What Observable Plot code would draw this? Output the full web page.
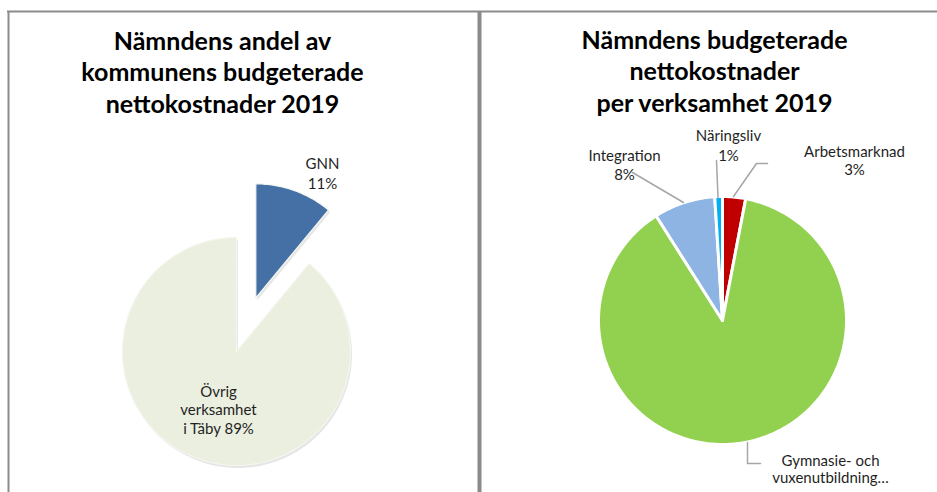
<!DOCTYPE html>
<html><head><meta charset="utf-8">
<script src="https://cdn.jsdelivr.net/npm/d3@7"></script>
<script src="https://cdn.jsdelivr.net/npm/@observablehq/plot@0.6"></script>
<style>html,body{margin:0;padding:0;background:#fff}#chart{width:937px;height:492px}</style>
</head><body><div id="chart"></div>
<script>
// ---------- data ----------
const leftCategories = ["GNN", "Övrig verksamhet i Täby"];
const leftValues = [11, 89];
const leftLabels = [["GNN", "11%"], ["Övrig", "verksamhet", "i Täby 89%"]];
const leftColors = ["#4470A6", "#EBEFDF"];

const rightCategories = ["Arbetsmarknad", "Gymnasie- och vuxenutbildning", "Integration", "Näringsliv"];
const rightValues = [3, 88, 8, 1];
const rightLabels = [["Arbetsmarknad", "3%"], ["Gymnasie- och", "vuxenutbildning…"], ["Integration", "8%"], ["Näringsliv", "1%"]];
const rightColors = ["#C00000", "#92D050", "#8DB4E2", "#00B0F0"];

const leftTitle = ["Nämndens andel av", "kommunens budgeterade", "nettokostnader 2019"];
const rightTitle = ["Nämndens budgeterade", "nettokostnader", "per verksamhet 2019"];

// ---------- layout ----------
const W = 937, H = 492;
const layout = {
  left: {cx: 236, cy: 351, r: 114, explode: [57, 0], title: {x: 222, y: 49, gap: 31.5},
    labels: [{x: 322, y: 168, gap: 20}, {x: 218, y: 396, gap: 18.5}]},
  right: {cx: 722, cy: 320, r: 124, explode: [0, 0, 0, 0], title: {x: 714, y: 48, gap: 31.5},
    labels: [{x: 854, y: 156, gap: 18}, {x: 830, y: 465, gap: 17.5}, {x: 624, y: 160, gap: 19}, {x: 728, y: 140, gap: 20}]},
  leaders: [
    [[632, 172], [683, 202]],
    [[716, 160], [717.5, 197]],
    [[767, 163], [756, 163], [733, 196]],
    [[760, 463], [747, 463], [747, 442]]
  ],
  frame: {top: 11, left: 8, divider: 479}
};

function slicePoints(cats, vals, L) {
  const arcs = d3.pie().sort(null)(vals);
  const pts = [];
  arcs.forEach((a, i) => {
    const mid = (a.startAngle + a.endAngle) / 2, e = L.explode[i] || 0;
    const ox = L.cx + e * Math.sin(mid), oy = L.cy - e * Math.cos(mid);
    pts.push({k: cats[i], x: ox, y: oy});
    const n = Math.max(2, Math.ceil((a.endAngle - a.startAngle) * 180 / Math.PI));
    for (let j = 0; j <= n; j++) {
      const t = a.startAngle + (a.endAngle - a.startAngle) * j / n;
      pts.push({k: cats[i], x: ox + L.r * Math.sin(t), y: oy - L.r * Math.cos(t)});
    }
  });
  return pts;
}
function textRows(lines, pos) {
  return lines.map((t, i) => ({t, x: pos.x, y: pos.y + i * pos.gap}));
}

const leftPts = slicePoints(leftCategories, leftValues, layout.left);
const rightPts = slicePoints(rightCategories, rightValues, layout.right);

const titleRows = [...textRows(leftTitle, layout.left.title), ...textRows(rightTitle, layout.right.title)];
const labelRows = [
  ...leftLabels.flatMap((l, i) => textRows(l, layout.left.labels[i])),
  ...rightLabels.flatMap((l, i) => textRows(l, layout.right.labels[i]))
];
const leaderRows = layout.leaders.flatMap((p, i) => p.map(([x, y]) => ({i, x, y})));

const chart = Plot.plot({
  width: W, height: H, margin: 0,
  x: {domain: [0, W], range: [0, W], axis: null},
  y: {domain: [0, H], range: [0, H], axis: null},
  color: {domain: [...leftCategories, ...rightCategories], range: [...leftColors, ...rightColors]},
  style: {fontFamily: "Lato, 'Open Sans', sans-serif", background: "white", overflow: "visible"},
  marks: [
    // frame
    Plot.ruleY([layout.frame.top], {x1: layout.frame.left - 1, x2: W, stroke: "#8C8C8C", strokeWidth: 2}),
    Plot.ruleX([layout.frame.left], {y1: layout.frame.top, y2: H, stroke: "#8C8C8C", strokeWidth: 2}),
    Plot.ruleX([layout.frame.divider], {y1: layout.frame.top, y2: H, stroke: "#8A8A8A", strokeWidth: 4}),
    // left pie shadow + slices
    Plot.line(leftPts, {x: "x", y: "y", z: "k", fill: "#C8C8C8", fillOpacity: 0.45, stroke: "none", curve: "linear-closed", dx: 1.5, dy: 2.5}),
    Plot.line(leftPts, {x: "x", y: "y", z: "k", fill: "k", stroke: "#F4F6EE", strokeWidth: 1.2, curve: "linear-closed"}),
    // right pie
    Plot.line(rightPts, {x: "x", y: "y", z: "k", fill: "k", stroke: "white", strokeWidth: 3, strokeLinejoin: "round", curve: "linear-closed"}),
    // leaders
    Plot.line(leaderRows, {x: "x", y: "y", z: "i", stroke: "#A6A6A6", strokeWidth: 1.5}),
    // titles
    Plot.text(titleRows, {x: "x", y: "y", text: "t", fontSize: 25, fontWeight: "bold", fill: "#000", textAnchor: "middle", lineAnchor: "bottom"}),
    // labels
    Plot.text(labelRows, {x: "x", y: "y", text: "t", fontSize: 15, fill: "#1f1f1f", textAnchor: "middle", lineAnchor: "bottom"})
  ]
});
document.getElementById("chart").append(chart);
</script>
</body></html>
